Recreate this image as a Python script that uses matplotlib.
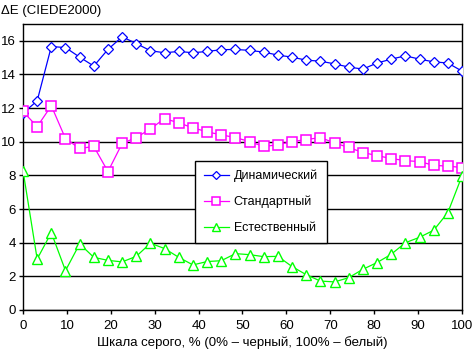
import numpy as np
import matplotlib
matplotlib.use('Agg')
import matplotlib.pyplot as plt

plt.rcParams['font.family'] = ['Liberation Sans', 'DejaVu Sans']

# grey scale steps, 32 points from 0 to 100 %
gray = np.linspace(0, 100, 32)

dynamic = [11.7, 12.43, 15.66, 15.6, 15.03, 14.5, 15.49, 16.24, 15.84, 15.41,
           15.29, 15.37, 15.29, 15.37, 15.47, 15.49, 15.43, 15.33, 15.15, 15.03,
           14.85, 14.79, 14.63, 14.44, 14.32, 14.68, 14.91, 15.11, 14.91, 14.75,
           14.68, 14.2]
standard = [11.8, 10.9, 12.14, 10.19, 9.6, 9.72, 8.23, 9.9, 10.25, 10.77,
            11.38, 11.12, 10.83, 10.59, 10.41, 10.25, 10.01, 9.72, 9.82, 10.01,
            10.13, 10.25, 9.93, 9.66, 9.36, 9.18, 9.0, 8.88, 8.82, 8.6,
            8.55, 8.47]
natural = [8.29, 3.03, 4.6, 2.34, 3.93, 3.13, 2.95, 2.86, 3.19, 3.97,
           3.65, 3.13, 2.68, 2.88, 2.93, 3.35, 3.29, 3.17, 3.19, 2.58,
           2.1, 1.72, 1.67, 1.92, 2.42, 2.82, 3.31, 4.0, 4.32, 4.74,
           5.79, 7.97]

names = ['Динамический', 'Стандартный', 'Естественный']

fig = plt.figure(figsize=(4.72, 3.53), dpi=100)
ax = fig.add_axes([23/472, 1 - 310/353, 439/472, 286/353])

ax.plot(gray, dynamic, color='#0000FF', lw=0.9, marker='D', ms=5.5,
        mfc='white', mec='#0000FF', mew=0.9, label=names[0], zorder=3)
ax.plot(gray, standard, color='#FF00FF', lw=0.9, marker='s', ms=6.5,
        mfc='white', mec='#FF00FF', mew=1.1, label=names[1], zorder=3)
ax.plot(gray, natural, color='#00FF00', lw=0.9, marker='^', ms=7,
        mfc='white', mec='#00FF00', mew=1.0, label=names[2], zorder=3)

ax.set_xlim(0, 100)
ax.set_ylim(0, 17)
ax.set_xticks(np.arange(0, 101, 10))
ax.set_yticks(np.arange(0, 17, 2))
ax.yaxis.grid(True, color='black', lw=1.0)
ax.set_axisbelow(True)
for s in ax.spines.values():
    s.set_linewidth(1.0)
ax.tick_params(direction='out', length=3, width=1, labelsize=9.5)
ax.tick_params(axis='y', pad=2)
ax.tick_params(axis='x', pad=4)

ax.set_xlabel('Шкала серого, % (0% – черный, 100% – белый)', fontsize=9.5, labelpad=3)
fig.text(1/472, 1 - 11/353, 'ΔE (CIEDE2000)', fontsize=9.5, va='center', ha='left')

leg = ax.legend(loc='upper left', bbox_to_anchor=((195 - 23)/439, (310 - 161)/286),
                borderaxespad=0, frameon=True, fancybox=False, edgecolor='black',
                framealpha=1, fontsize=9, handlelength=2.0, handletextpad=0.4,
                markerscale=0.8, borderpad=0.7, labelspacing=1.1)
leg.get_frame().set_linewidth(1.0)

fig.savefig('out.png', dpi=100)
